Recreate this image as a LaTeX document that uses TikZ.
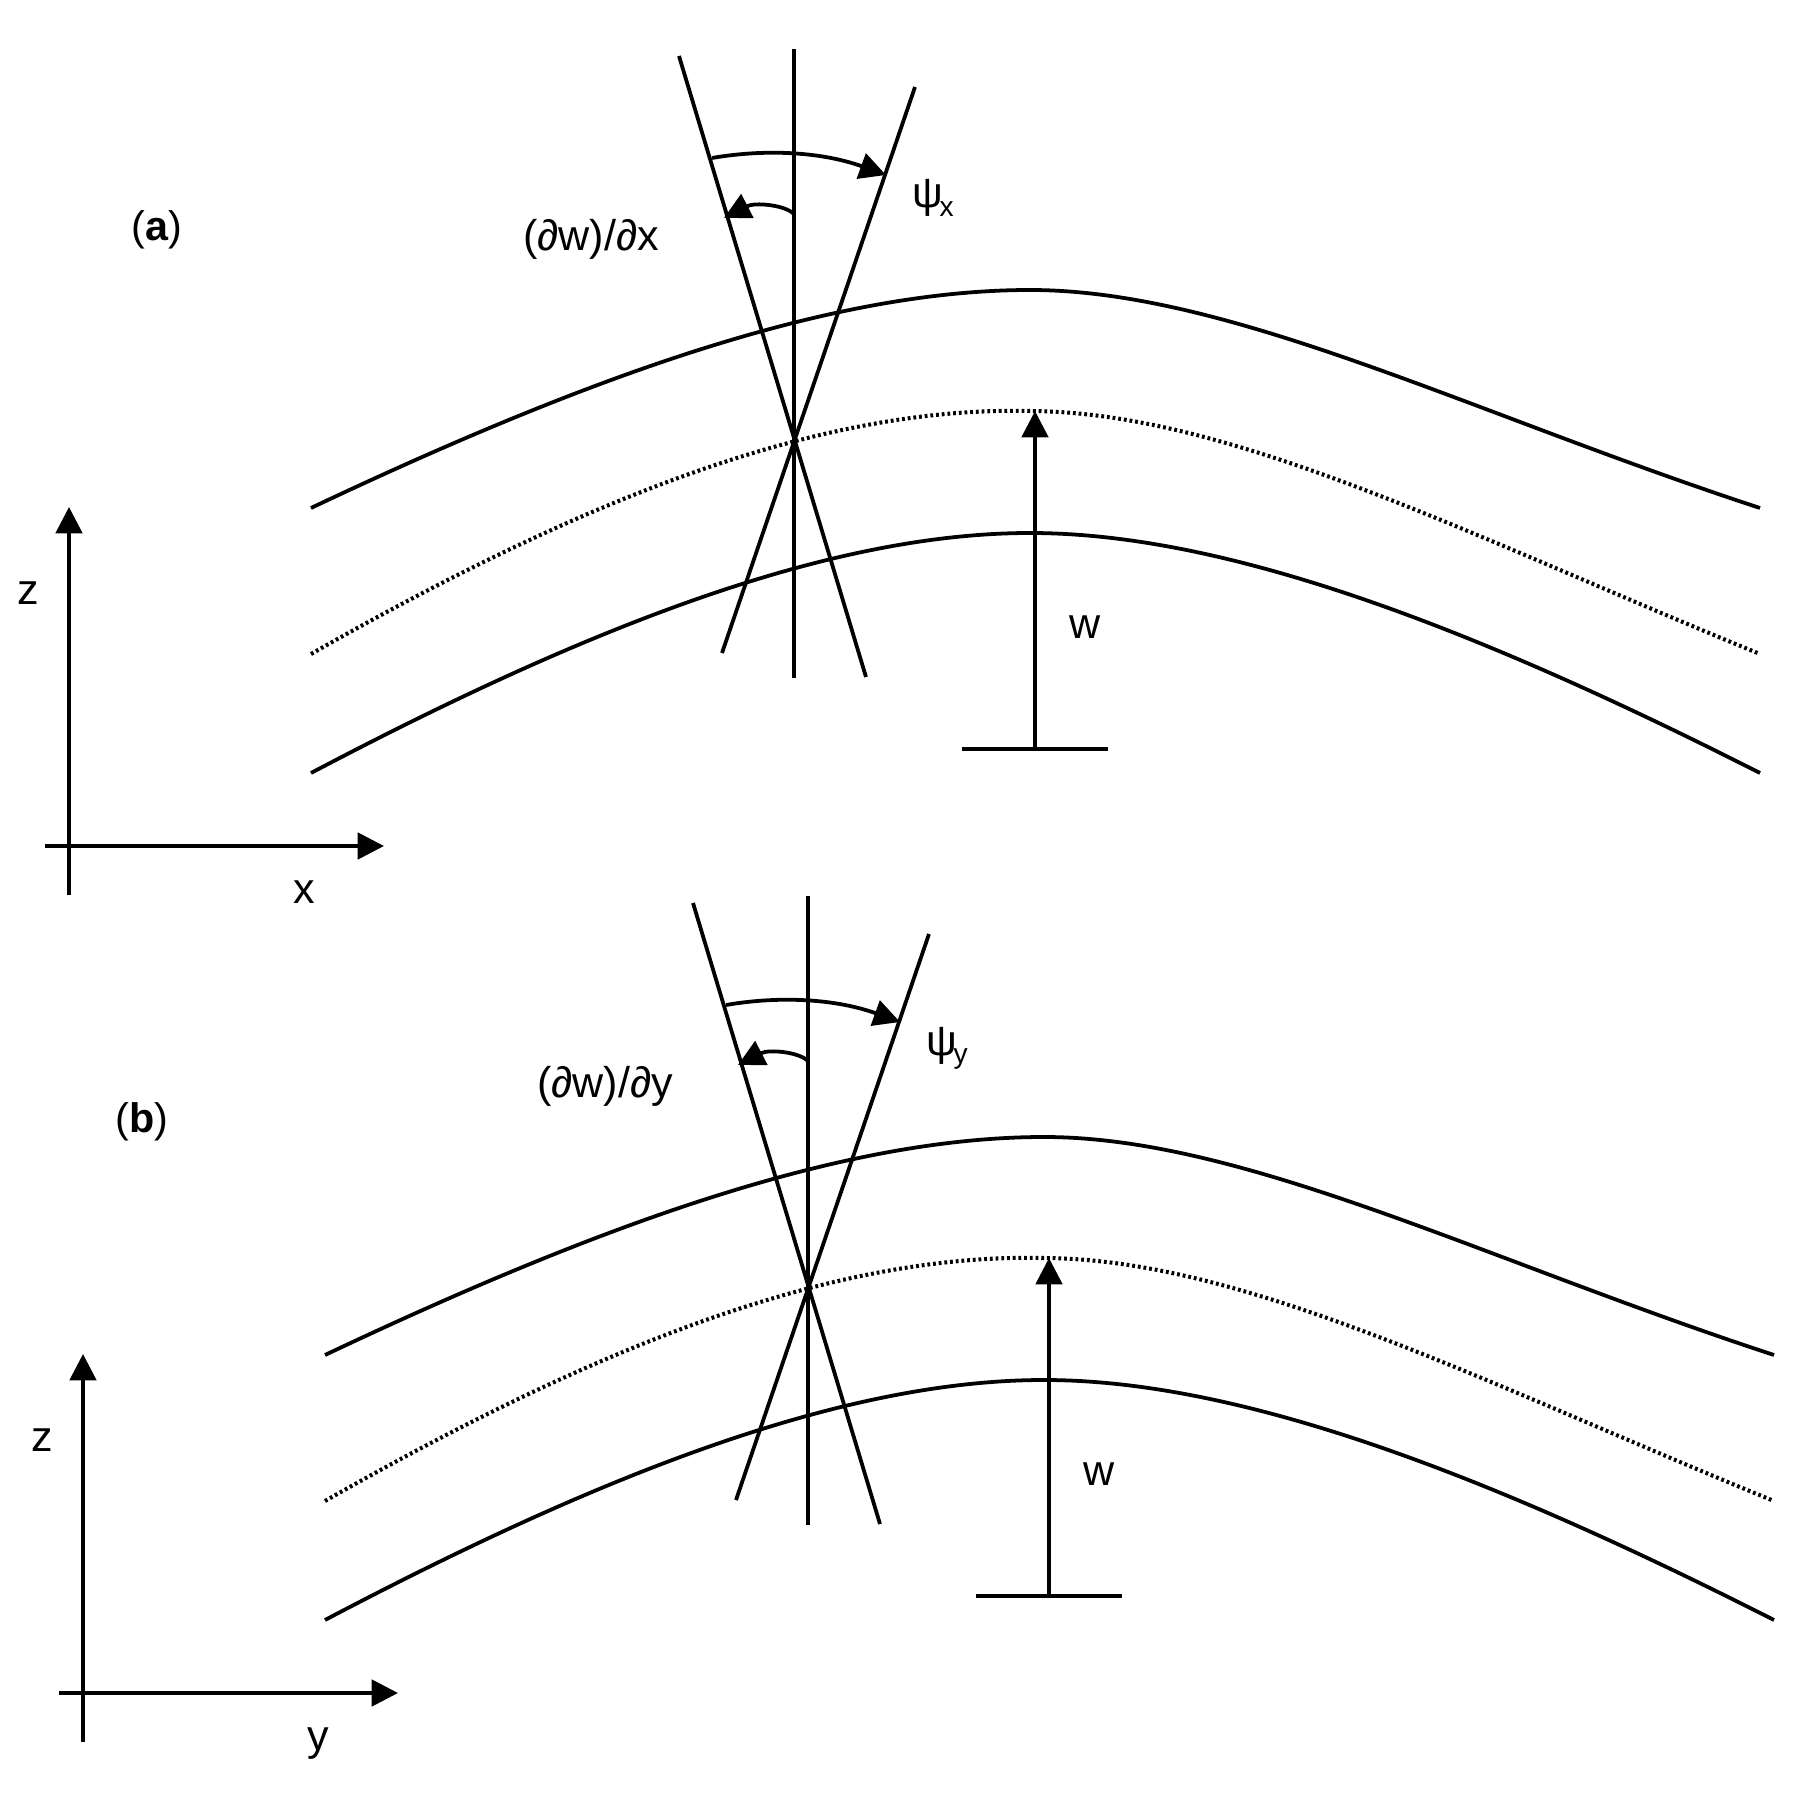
\documentclass[tikz,border=0pt]{standalone}
\usepackage{fontspec}
\setmainfont{Liberation Sans}
\usetikzlibrary{arrows.meta}
\tikzset{
  x=0.02cm,y=-0.02cm,
  ln/.style={line width=2.15pt,black},
  dotline/.style={line width=2.3pt,dash pattern=on 1.6pt off 1.65pt},
  arr/.style={ln,-{Triangle[length=15pt,width=15pt]}},
  lbl/.style={font=\fontsize{24.5}{28}\selectfont,inner sep=0pt},
  tag/.style={font=\fontsize{23.5}{28}\selectfont,inner sep=0pt},
}
\newcommand{\panel}[1]{%
  \coordinate (lt) at (679,56); \coordinate (lb) at (866,677);
  \coordinate (rt) at (915,87); \coordinate (rb) at (722,653);
  \coordinate (vt) at (794,49); \coordinate (vb) at (794,678);
  \draw[ln] (311,508) .. controls (590,376) and (830,290) .. (1030,290)
            .. controls (1230,290) and (1470,413) .. (1760,508);
  \draw[dotline] (311,654) .. controls (585,498) and (820,406) .. (1030,411)
            .. controls (1230,412) and (1470,536) .. (1760,654);
  \draw[ln] (311,773) .. controls (590,626) and (830,533) .. (1030,533)
            .. controls (1230,533) and (1480,631) .. (1760,773);
  \draw[ln] (lt) -- (lb);
  \draw[ln] (rt) -- (rb);
  \draw[ln] (vt) -- (vb);
  \coordinate (a1) at (712,158); \coordinate (a2) at (886,175);
  \draw[arr] (a1) .. controls (770,148) and (825,153) .. (a2);
  \coordinate (s1) at (794,214); \coordinate (s2) at (724,218);
  \draw[arr] (s1) .. controls (785,205) and (755,202) .. (s2);
  \coordinate (wb) at (1035,749); \coordinate (wt) at (1035,411);
  \coordinate (bl) at (962,749); \coordinate (br) at (1108,749);
  \draw[arr] (wb) -- (wt);
  \draw[ln] (bl) -- (br);
  \coordinate (zb) at (69,895); \coordinate (zt) at (69,507);
  \coordinate (xl) at (45,846); \coordinate (xr) at (384,846);
  \draw[arr] (zb) -- (zt);
  \draw[arr] (xl) -- (xr);
  \node[lbl] (zlab) at (28,593) {z};
  \node[lbl,anchor=base] (xlab) at (304,903) {#1};
  \node[lbl] (wlab) at (1085,627) {w};
  \node[lbl] (dlab) at (591,239) {(∂w)/∂#1};
  \node[lbl,anchor=base west] (plab) at (912,208) {ψ\kern-2pt\raisebox{-5pt}{\fontsize{16}{20}\selectfont #1}};
}
\begin{document}
\begin{tikzpicture}
\useasboundingbox (0,0) rectangle (1820,1794);
\begin{scope}
\panel{x}
\end{scope}
\begin{scope}[shift={(14,847)}]
\panel{y}
\end{scope}
\node[tag] (pa) at (157,230) {(\textbf{a})};
\node[tag] (pb) at (142,1122) {(\textbf{b})};
\end{tikzpicture}
\end{document}
